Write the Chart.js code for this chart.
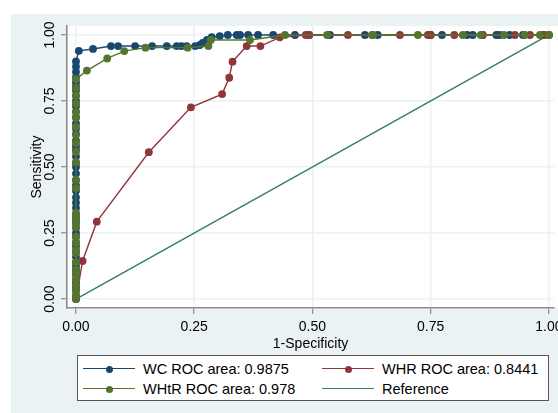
<!DOCTYPE html>
<html><head><meta charset="utf-8">
<script src="https://cdn.jsdelivr.net/npm/chart.js@4"></script>
<style>
html,body{margin:0;padding:0;background:#fff;}
#wrap{position:relative;width:558px;height:413px;overflow:hidden;}
#c{position:absolute;left:0;top:0;}
#legend{position:absolute;left:77px;top:355px;width:472px;height:46px;box-sizing:border-box;border:1px solid #555;background:#fff;font-family:"Liberation Sans",Arial,sans-serif;font-size:14.5px;color:#000;}
.sw{position:absolute;height:0;border-top:1.3px solid;}
.dot{position:absolute;width:7px;height:7px;border-radius:50%;}
.lt{position:absolute;line-height:16px;white-space:nowrap;}
</style>
</head><body>
<div id="wrap"><canvas id="c" width="558" height="413"></canvas><div id="legend"></div></div>
<script>
const xTickValues = [0, 0.25, 0.5, 0.75, 1];
const xTickLabels = ["0.00", "0.25", "0.50", "0.75", "1.00"];
const yTickValues = [0, 0.25, 0.5, 0.75, 1];
const yTickLabels = ["0.00", "0.25", "0.50", "0.75", "1.00"];
const xTitle = "1-Specificity";
const yTitle = "Sensitivity";
const seriesNames = ["WC ROC area: 0.9875", "WHR ROC area: 0.8441", "WHtR ROC area: 0.978", "Reference"];
const seriesColors = ["#1a476f", "#90353b", "#55752f", "#367a70"];

const wcSpec = [0,0,0,0,0,0,0,0,0,0,0,0,0,0,0,0,0,0,0,0,0,0,0,0,0,0,0,0,0,0,0,0,0,0,0,0,0,0,0,0,0,0,0,0,0,0,0,0,
  0.006,0.036,0.074,0.089,0.125,0.161,0.192,0.213,0.223,0.234,0.252,0.262,0.268,0.277,0.287,0.304,0.321,0.340,0.347,0.364,0.385,0.417,0.463,0.493,0.537,0.611,0.638,0.750,0.774,0.827,0.839,0.860,0.889,0.896,0.917,0.945,0.987,1.000];
const wcSens = [0.000,0.012,0.030,0.045,0.060,0.075,0.095,0.110,0.125,0.140,0.160,0.180,0.200,0.215,0.235,0.250,0.270,0.290,0.305,0.320,0.345,0.365,0.385,0.410,0.430,0.450,0.475,0.500,0.515,0.540,0.565,0.580,0.600,0.625,0.645,0.665,0.690,0.710,0.730,0.750,0.770,0.790,0.805,0.820,0.840,0.860,0.880,0.900,
  0.940,0.947,0.958,0.958,0.958,0.958,0.958,0.958,0.958,0.958,0.958,0.962,0.970,0.981,0.992,0.996,1,1,1,1,1,1,1,1,1,1,1,1,1,1,1,1,1,1,1,1,1,1];

const whrSpec = [0,0.014,0.044,0.154,0.243,0.309,0.324,0.331,0.361,0.390,0.431,0.486,0.493,0.575,0.685,0.744,0.750,0.800,0.860,0.928,0.960,0.990,1.000];
const whrSens = [0,0.144,0.293,0.556,0.726,0.776,0.838,0.899,0.958,0.958,0.991,1,1,1,1,1,1,1,1,1,1,1,1];

const whtrSpec = [0,0,0,0,0,0,0,0,0,0,0,0,0,0,0,0,0,0,0,0,0,0,0,0,0,0,0,0,0,
  0.023,0.066,0.102,0.147,0.236,0.280,0.285,0.368,0.442,0.531,0.626,0.628,0.723,0.818,0.856,0.905,0.949,0.981,1.000];
const whtrSens = [0.000,0.015,0.034,0.049,0.072,0.091,0.110,0.140,0.174,0.186,0.212,0.235,0.273,0.288,0.311,0.326,0.420,0.451,0.519,0.557,0.591,0.621,0.652,0.686,0.708,0.740,0.770,0.800,0.833,
  0.865,0.911,0.939,0.952,0.952,0.958,0.981,0.981,1,1,1,1,1,1,1,1,1,1,1];

const refSpec = [0, 1];
const refSens = [0, 1];

function pairs(xs, ys){ return xs.map((x,i)=>({x:x, y:ys[i]})); }

const FONT = '"Liberation Sans", Arial, sans-serif';

const bgPlugin = {
  id: 'bg',
  beforeDraw(chart){
    const {ctx, chartArea:a} = chart;
    ctx.save();
    ctx.fillStyle = '#ffffff';
    ctx.fillRect(0,0,chart.width,chart.height);
    ctx.fillStyle = '#eaf2f3';
    ctx.fillRect(11,14,chart.width-11,chart.height-14);
    ctx.fillStyle = '#ffffff';
    ctx.fillRect(a.left, a.top, chart.width-a.left, a.bottom-a.top);
    ctx.restore();
  },
  afterDraw(chart){
    const ctx = chart.ctx, ys = chart.scales.y;
    ctx.save();
    ctx.fillStyle = '#000';
    ctx.font = '14px ' + FONT;
    ctx.textAlign = 'center';
    ctx.textBaseline = 'middle';
    yTickValues.forEach((v,i)=>{
      const py = ys.getPixelForValue(v);
      ctx.save();
      ctx.translate(50.5, py);
      ctx.rotate(-Math.PI/2);
      ctx.fillText(yTickLabels[i], 0, 0);
      ctx.restore();
    });
    ctx.restore();
  }
};

const ds = (label, xs, ys, color, r, order) => ({
  label, data: pairs(xs, ys), showLine: true, borderColor: color, backgroundColor: color,
  borderWidth: 1.4, pointRadius: r, pointBackgroundColor: color, pointBorderWidth: 0,
  pointHoverRadius: r, order
});

new Chart(document.getElementById('c'), {
  type: 'scatter',
  data: { datasets: [
    ds(seriesNames[0], wcSpec, wcSens, seriesColors[0], 3.9, 3),
    ds(seriesNames[1], whrSpec, whrSens, seriesColors[1], 3.9, 2),
    ds(seriesNames[2], whtrSpec, whtrSens, seriesColors[2], 3.9, 1),
    ds(seriesNames[3], refSpec, refSens, seriesColors[3], 0, 4)
  ]},
  options: {
    responsive: false, animation: false, events: [],
    layout: { padding: { top: 26, right: 0, bottom: 60, left: 0 } },
    plugins: { legend: { display: false }, tooltip: { enabled: false } },
    scales: {
      x: {
        type: 'linear', min: -0.019, max: 1.011,
        afterBuildTicks: s => { s.ticks = xTickValues.map(v => ({value: v})); },
        afterFit: s => { s.height = 45; s.paddingLeft = 0; s.paddingRight = 0; },
        grid: { color: '#eaf2f3', lineWidth: 1.5, tickColor: '#777', tickLength: 6, tickWidth: 1 },
        border: { color: '#8c8c8c', width: 1.6 },
        ticks: { color: '#000', font: { size: 14, family: FONT }, padding: 5, maxRotation: 0,
          callback: (v) => { const i = xTickValues.indexOf(v); return i >= 0 ? xTickLabels[i] : ''; } },
        title: { display: true, text: xTitle, color: '#000', font: { size: 14, family: FONT }, padding: { top: 4, bottom: 0 } }
      },
      y: {
        type: 'linear', min: -0.034, max: 1.034,
        afterBuildTicks: s => { s.ticks = yTickValues.map(v => ({value: v})); },
        afterFit: s => { s.width = 67; s.paddingTop = 0; s.paddingBottom = 0; },
        grid: { color: '#eaf2f3', lineWidth: 1.5, tickColor: '#777', tickLength: 6, tickWidth: 1 },
        border: { color: '#8c8c8c', width: 1.6 },
        ticks: { display: false },
        title: { display: true, text: yTitle, color: '#000', font: { size: 14, family: FONT }, padding: { top: 28.5, bottom: 0 } }
      }
    }
  },
  plugins: [bgPlugin]
});

const lg = document.getElementById('legend');
const legendCols = [5, 244];
const legendRows = [13, 33];
const legendMarkers = [true, true, true, false];
const legendPos = [[0,0],[1,0],[0,1],[1,1]];
seriesNames.forEach((name, i) => {
  const [c, r] = legendPos[i];
  const x0 = legendCols[c], yc = legendRows[r];
  const line = document.createElement('div');
  line.className = 'sw';
  line.style.left = x0 + 'px'; line.style.top = (yc - 0.6) + 'px'; line.style.width = '52px';
  line.style.borderTopColor = seriesColors[i];
  lg.appendChild(line);
  if (legendMarkers[i]) {
    const d = document.createElement('div');
    d.className = 'dot';
    d.style.left = (x0 + 22.5) + 'px'; d.style.top = (yc - 3.5) + 'px';
    d.style.background = seriesColors[i];
    lg.appendChild(d);
  }
  const t = document.createElement('div');
  t.className = 'lt';
  t.style.left = (x0 + 60) + 'px'; t.style.top = (yc - 8) + 'px';
  t.textContent = name;
  lg.appendChild(t);
});
</script>
</body></html>
